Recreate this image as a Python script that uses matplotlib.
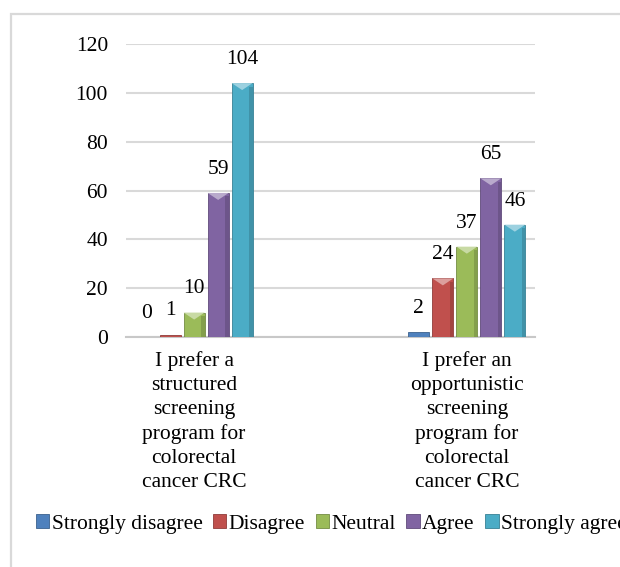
import numpy as np
import matplotlib
matplotlib.use('Agg')
import matplotlib.pyplot as plt
from matplotlib.patches import Rectangle, Polygon
from matplotlib.colors import to_rgb

categories = ['I prefer a\nstructured\nscreening\nprogram for\ncolorectal\ncancer CRC',
              'I prefer an\nopportunistic\nscreening\nprogram for\ncolorectal\ncancer CRC']
series = ['Strongly disagree', 'Disagree', 'Neutral', 'Agree', 'Strongly agree']
values = {
    'Strongly disagree': [0, 2],
    'Disagree': [1, 24],
    'Neutral': [10, 37],
    'Agree': [59, 65],
    'Strongly agree': [104, 46],
}
colors = ['#4F81BD', '#C0504D', '#9BBB59', '#8064A2', '#4BACC6']
yticks = [0, 20, 40, 60, 80, 100, 120]

FS = 15.5


def shade(c, f):
    r, g, b = to_rgb(c)
    if f > 0:
        return (r + (1 - r) * f, g + (1 - g) * f, b + (1 - b) * f)
    return (r * (1 + f), g * (1 + f), b * (1 + f))


def main():
    plt.rcParams['font.family'] = ['Liberation Serif', 'DejaVu Serif']
    fig = plt.figure(figsize=(6.2, 5.67), dpi=100)
    ax = fig.add_axes([126 / 620, 1 - 337 / 567, 409 / 620, 293 / 567])

    # light grey chart frame, runs off the right and bottom edges
    fig.patches.append(Rectangle((11 / 620, -0.1), 1.2, 1.1 - 14 / 567,
                                 transform=fig.transFigure, fill=False,
                                 edgecolor='#D9D9D9', linewidth=1.6, zorder=0))

    x = np.arange(len(categories))
    step = 0.088
    width = 0.077
    px_per_unit = 293 / 120.0
    tri = 7 / px_per_unit

    for i, name in enumerate(series):
        offs = (i - 2) * step
        bars = ax.bar(x + offs, values[name], width, color=colors[i],
                      edgecolor=shade(colors[i], -0.25), linewidth=0.6, zorder=3,
                      label=name)
        for b, v in zip(bars, values[name]):
            bx, bw, bh = b.get_x(), b.get_width(), b.get_height()
            if bh > tri * 1.2:
                ax.add_patch(Polygon([(bx, bh), (bx + bw, bh), (bx + bw / 2, bh - tri)],
                                     closed=True, facecolor=shade(colors[i], 0.45),
                                     edgecolor='none', zorder=4))
                # darker side strip for a bevel look
                ax.add_patch(Rectangle((bx + bw * 0.82, 0), bw * 0.18, bh - tri * 0.5,
                                       facecolor=shade(colors[i], -0.15),
                                       edgecolor='none', zorder=4))
            ax.annotate(str(v), (bx + bw / 2, bh), xytext=(0, 17),
                        textcoords='offset points', ha='center', va='center',
                        fontsize=FS, color='black')

    ax.set_xlim(-0.25, 1.25)
    ax.set_ylim(0, 120)
    ax.set_yticks(yticks)
    ax.set_xticks(x)
    ax.set_xticklabels(categories, fontsize=FS, linespacing=1.35)
    ax.tick_params(axis='y', length=0, pad=13, labelsize=FS)
    ax.tick_params(axis='x', length=0, pad=10)
    ax.yaxis.grid(True, color='#D9D9D9', linewidth=1.5, zorder=0)
    ax.set_axisbelow(True)
    for s in ['top', 'right', 'left']:
        ax.spines[s].set_visible(False)
    ax.spines['bottom'].set_color('#C8C8C8')
    ax.spines['bottom'].set_linewidth(1.5)

    handles, labels = ax.get_legend_handles_labels()
    fig.legend(handles, labels, loc='center left', bbox_to_anchor=(36 / 620, 1 - 524 / 567),
               ncol=5, frameon=False, fontsize=FS, handlelength=0.62, handleheight=0.62,
               handletextpad=0.1, columnspacing=0.5, borderaxespad=0, borderpad=0)

    fig.savefig('out.png', dpi=100)


if __name__ == '__main__':
    main()
